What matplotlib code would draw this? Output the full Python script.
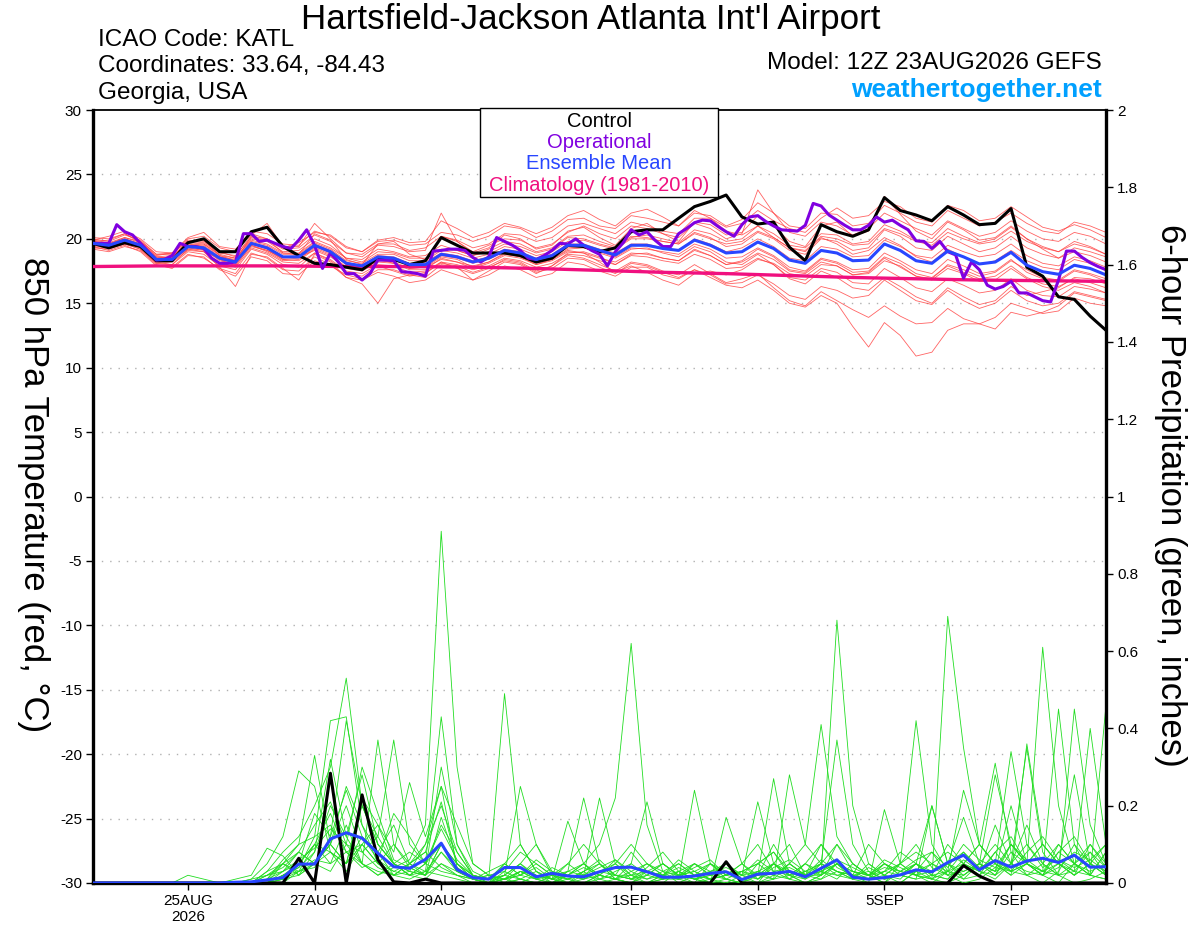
import matplotlib
matplotlib.use("Agg")
import matplotlib.pyplot as plt
from matplotlib.patches import Rectangle
import numpy as np
import pandas as pd

plt.rcParams['font.family'] = ['Liberation Sans', 'DejaVu Sans']

# Colours
PURPLE = '#8000e0'
BLUE = '#2846ff'
PINK = '#f0107f'
RED = '#ff3c3c'
GREEN = '#22dd22'

# Time axes (6-hourly ensemble, 3-hourly operational, daily climatology)
times = pd.date_range("2026-08-23 12:00", periods=65, freq="6h")
times_op = pd.date_range("2026-08-23 12:00", periods=129, freq="3h")
times_clim = pd.date_range("2026-08-23 12:00", periods=17, freq="24h")

tick_dates = pd.to_datetime(["2026-08-25", "2026-08-27", "2026-08-29", "2026-09-01",
                             "2026-09-03", "2026-09-05", "2026-09-07"])
tick_labels = ["25AUG\n2026", "27AUG", "29AUG", "1SEP", "3SEP", "5SEP", "7SEP"]

# 850 hPa temperature (C)
control_t = [19.65, 19.3, 19.7, 19.4, 18.3, 18.3, 19.7, 20.0, 19.0, 19.0,
             20.55, 20.9, 19.4, 18.7, 18.1, 18.0, 17.8, 17.6, 18.5, 18.4,
             18.0, 18.3, 20.1, 19.5, 18.9, 18.9, 18.9, 18.7, 18.2, 18.5,
             19.5, 19.4, 19.0, 19.3, 20.55, 20.7, 20.7, 21.6, 22.5, 22.9,
             23.4, 21.7, 21.15, 21.3, 19.35, 18.3, 21.1, 20.55, 20.2, 20.7,
             23.2, 22.2, 21.85, 21.4, 22.5, 21.85, 21.1, 21.2, 22.35, 17.8,
             17.1, 15.5, 15.3, 14.0, 12.9]

mean_t = [19.65, 19.5, 19.9, 19.5, 18.4, 18.4, 19.4, 19.3, 18.5, 18.2,
          19.65, 19.3, 18.6, 18.6, 19.5, 19.0, 18.1, 17.9, 18.6, 18.5,
          18.0, 18.0, 18.8, 18.6, 18.2, 18.5, 19.1, 18.9, 18.4, 18.7,
          19.5, 19.5, 19.1, 18.75, 19.5, 19.5, 19.25, 19.1, 19.9, 19.5,
          18.9, 19.0, 19.75, 19.25, 18.35, 18.1, 19.1, 18.9, 18.3, 18.35,
          19.6, 19.1, 18.3, 18.1, 19.05, 18.6, 18.05, 18.2, 18.95, 17.95,
          17.45, 17.25, 17.95, 17.7, 17.2]

oper_t = [19.65, 19.65, 19.65, 21.1, 20.55, 20.3, 19.65, 19.0, 18.35, 18.4,
          18.7, 19.65, 19.4, 19.4, 19.25, 18.5, 18.1, 18.1, 18.2, 20.4,
          20.4, 19.8, 19.9, 19.65, 19.4, 19.25, 19.9, 20.7, 19.5, 17.7,
          18.9, 18.2, 17.3, 17.3, 16.8, 17.3, 18.35, 18.35, 18.3, 17.45,
          17.4, 17.3, 17.1, 19.05, 19.1, 19.2, 19.2, 19.1, 18.55, 18.2,
          18.6, 20.1, 19.8, 19.5, 19.1, 18.5, 18.4, 18.7, 19.1, 19.65,
          19.6, 20.0, 19.5, 19.1, 18.8, 17.9, 19.0, 19.7, 20.7, 20.3,
          20.55, 19.9, 19.4, 19.4, 20.4, 20.8, 21.25, 21.45, 21.4, 20.95,
          20.55, 20.2, 21.1, 21.7, 21.8, 21.35, 21.0, 20.7, 20.65, 20.6,
          21.05, 22.75, 22.55, 21.85, 21.45, 21.05, 20.7, 20.7, 21.05, 21.7,
          21.3, 21.45, 21.05, 20.7, 19.85, 19.8, 19.25, 19.8, 19.0, 18.75,
          16.95, 18.2, 17.6, 16.4, 16.1, 16.3, 16.7, 15.8, 15.8, 15.5,
          15.2, 15.1, 16.8, 19.05, 19.05, 18.55, 18.15, 17.85, 17.6]

clim_t = [17.85, 17.9, 17.9, 17.9, 17.85, 17.85, 17.8, 17.7, 17.55,
          17.4, 17.3, 17.15, 17.0, 16.9, 16.8, 16.75, 16.7]

# ensemble members, temperature
ens_t01 = [20.0, 19.8, 20.3, 19.9, 18.8, 18.9, 20.0, 20.2, 19.3, 19.0,
           20.6, 20.4, 19.6, 19.5, 20.6, 20.2, 19.3, 19.0, 19.8, 19.9,
           19.5, 19.6, 20.5, 20.3, 19.8, 20.2, 21.0, 20.8, 20.1, 20.6,
           21.5, 21.6, 21.0, 20.8, 21.8, 21.6, 21.3, 21.0, 22.0, 21.8,
           21.0, 21.5, 22.8, 22.0, 21.0, 20.8, 22.0, 21.9, 21.0, 21.2,
           22.6, 22.0, 21.3, 21.0, 22.2, 21.6, 21.0, 21.3, 22.0, 21.2,
           20.6, 20.4, 21.3, 21.0, 20.5]
ens_t02 = [19.4, 19.1, 19.5, 19.0, 17.9, 17.8, 18.8, 18.5, 17.7, 17.3,
           18.9, 18.5, 17.6, 17.5, 18.6, 18.0, 17.0, 16.8, 17.4, 17.1,
           16.6, 16.8, 17.6, 17.2, 16.8, 17.2, 17.9, 17.6, 17.0, 17.3,
           18.2, 18.0, 17.5, 17.1, 17.8, 17.8, 17.2, 16.9, 17.6, 17.0,
           16.4, 16.2, 16.8, 16.0, 15.0, 14.7, 15.6, 15.0, 13.2, 11.6,
           13.5, 12.5, 10.9, 11.2, 12.9, 13.4, 13.4, 13.0, 14.3, 14.0,
           14.3, 14.8, 15.8, 15.5, 15.2]
ens_t03 = [19.3, 19.2, 19.6, 19.2, 18.1, 18.0, 19.0, 18.8, 17.9, 17.6,
           19.2, 18.8, 18.0, 17.8, 18.9, 18.3, 17.4, 17.1, 17.9, 17.5,
           17.1, 17.3, 18.2, 17.7, 17.3, 17.7, 18.4, 18.2, 17.5, 17.9,
           18.7, 18.5, 18.0, 17.5, 18.2, 18.0, 17.5, 17.2, 18.0, 17.3,
           16.6, 16.9, 17.3, 16.2, 15.2, 14.8, 15.9, 15.2, 14.5, 13.9,
           14.8, 14.0, 13.4, 13.5, 14.6, 13.8, 13.4, 13.9, 15.0, 14.6,
           14.2, 14.4, 15.4, 15.0, 14.8]
ens_t04 = [19.9, 19.7, 20.1, 19.8, 18.6, 18.7, 19.7, 19.6, 18.8, 18.5,
           20.0, 19.8, 19.0, 19.1, 20.0, 19.5, 18.5, 18.4, 19.2, 19.0,
           18.6, 18.7, 19.5, 19.1, 18.7, 19.2, 19.8, 19.6, 19.0, 19.3,
           20.2, 20.3, 19.8, 19.4, 20.2, 20.1, 19.8, 19.6, 20.5, 20.1,
           19.4, 19.6, 20.5, 20.0, 19.1, 18.8, 20.0, 19.8, 19.1, 19.3,
           20.7, 20.2, 19.3, 19.1, 20.2, 19.6, 19.0, 19.3, 20.2, 19.3,
           18.8, 18.5, 19.3, 19.0, 18.6]
ens_t05 = [19.5, 19.3, 19.6, 19.2, 18.1, 18.2, 19.1, 19.0, 18.1, 17.8,
           19.3, 18.9, 18.2, 18.1, 18.9, 18.4, 17.5, 17.3, 18.0, 17.9,
           17.4, 17.5, 18.2, 18.0, 17.6, 17.9, 18.5, 18.3, 17.8, 18.1,
           18.8, 18.7, 18.3, 18.0, 18.7, 18.6, 18.3, 18.1, 18.8, 18.4,
           17.7, 17.8, 18.5, 18.0, 17.0, 16.8, 17.7, 17.4, 16.6, 16.5,
           17.7, 17.0, 16.2, 15.9, 16.9, 16.4, 15.8, 16.0, 16.9, 16.0,
           15.6, 15.5, 16.3, 16.1, 15.8]
ens_t06 = [19.8, 19.9, 20.4, 19.7, 18.5, 18.6, 19.8, 19.9, 18.7, 18.3,
           20.2, 20.0, 18.9, 18.8, 20.4, 19.9, 18.4, 18.0, 19.6, 19.8,
           18.8, 18.4, 20.2, 19.8, 18.9, 19.3, 20.3, 20.0, 19.2, 19.5,
           20.6, 20.9, 20.1, 19.5, 20.8, 21.2, 20.4, 19.8, 21.3, 21.1,
           20.3, 20.5, 21.8, 21.0, 19.8, 19.4, 21.0, 21.3, 20.2, 20.6,
           23.3, 21.9, 20.6, 20.0, 21.3, 20.7, 19.9, 20.1, 21.0, 20.0,
           19.4, 19.0, 19.8, 19.4, 18.8]
ens_t07 = [19.6, 19.4, 19.8, 19.3, 18.3, 18.3, 19.3, 19.1, 18.4, 17.9,
           19.5, 19.0, 18.3, 18.4, 19.3, 18.8, 17.8, 17.6, 18.3, 18.2,
           17.7, 17.8, 18.6, 18.4, 17.8, 18.2, 18.9, 18.6, 18.1, 18.4,
           19.2, 19.3, 18.9, 18.5, 19.2, 19.3, 18.9, 18.6, 19.4, 19.0,
           18.2, 18.0, 18.8, 18.0, 16.9, 16.5, 17.5, 17.0, 16.2, 16.0,
           17.0, 16.3, 15.5, 15.0, 16.2, 15.5, 14.9, 15.2, 16.3, 15.6,
           15.9, 16.2, 17.0, 16.9, 16.5]
ens_t08 = [19.7, 19.6, 20.0, 19.6, 18.5, 18.5, 19.5, 19.5, 18.6, 18.4,
           19.8, 19.5, 18.8, 18.8, 19.7, 19.2, 18.3, 18.1, 18.8, 18.8,
           18.3, 18.3, 19.1, 18.9, 18.5, 18.8, 19.4, 19.2, 18.7, 19.0,
           19.8, 19.9, 19.5, 19.2, 20.0, 20.0, 19.8, 19.6, 20.4, 20.0,
           19.6, 19.8, 20.6, 20.1, 19.3, 19.1, 20.2, 20.0, 19.5, 19.6,
           20.8, 20.4, 19.8, 19.5, 20.5, 20.0, 19.6, 19.8, 20.6, 19.8,
           19.3, 19.0, 19.6, 19.3, 18.8]
ens_t09 = [19.5, 19.4, 19.7, 19.4, 18.2, 18.0, 19.2, 19.0, 17.8, 16.3,
           18.8, 18.6, 17.7, 16.8, 18.8, 18.2, 17.0, 16.5, 15.0, 16.9,
           17.2, 17.0, 18.0, 17.8, 16.8, 17.5, 18.2, 18.0, 17.3, 17.9,
           18.9, 19.0, 18.6, 18.0, 18.8, 18.9, 18.5, 18.3, 19.2, 18.7,
           18.0, 18.3, 19.2, 18.6, 17.6, 17.4, 18.4, 18.1, 17.4, 17.5,
           18.6, 18.1, 17.3, 17.0, 17.9, 17.4, 16.9, 17.1, 17.9, 17.0,
           16.5, 16.3, 16.9, 16.6, 16.2]
ens_t10 = [20.1, 20.0, 20.4, 19.8, 18.8, 18.8, 19.9, 19.8, 19.0, 18.6,
           20.3, 21.2, 19.4, 19.4, 21.2, 20.0, 18.9, 18.6, 19.5, 19.4,
           19.0, 19.1, 22.0, 19.8, 19.0, 19.5, 20.0, 19.9, 19.3, 19.6,
           20.5, 21.0, 20.4, 20.0, 21.0, 20.8, 20.4, 20.1, 21.2, 20.8,
           20.0, 20.4, 23.8, 22.0, 20.5, 20.2, 21.3, 21.0, 20.3, 20.8,
           22.0, 21.4, 20.8, 20.3, 21.4, 20.8, 20.2, 20.5, 21.4, 20.6,
           20.0, 19.8, 20.5, 20.2, 19.6]
ens_t11 = [19.8, 19.6, 20.0, 19.6, 18.4, 18.6, 19.6, 19.4, 18.5, 18.2,
           19.7, 19.4, 18.6, 18.7, 19.6, 19.1, 18.2, 17.9, 18.7, 18.6,
           18.1, 18.2, 18.9, 18.7, 18.3, 18.6, 19.2, 19.0, 18.5, 18.8,
           19.6, 19.6, 19.2, 18.9, 19.6, 19.6, 19.3, 19.1, 20.0, 19.6,
           19.0, 19.3, 20.0, 19.4, 18.5, 18.3, 19.4, 19.2, 18.6, 18.7,
           19.9, 19.4, 18.7, 18.5, 19.5, 19.0, 18.6, 18.8, 19.6, 18.7,
           18.1, 17.9, 18.6, 18.3, 17.8]
ens_t12 = [19.6, 19.5, 19.8, 19.5, 18.3, 18.4, 19.3, 19.3, 18.4, 18.1,
           19.6, 19.2, 18.4, 18.5, 19.4, 18.9, 18.0, 17.7, 18.5, 18.4,
           17.9, 17.9, 18.7, 18.5, 18.1, 18.4, 19.0, 18.8, 18.3, 18.6,
           19.3, 19.4, 19.0, 18.6, 19.3, 19.2, 19.0, 18.8, 19.6, 19.2,
           18.5, 18.6, 19.3, 18.7, 17.8, 17.5, 18.5, 18.2, 17.6, 17.7,
           18.9, 18.3, 17.6, 17.3, 18.4, 17.9, 17.3, 17.5, 18.4, 17.4,
           16.9, 16.7, 17.5, 17.2, 16.7]
ens_t13 = [19.4, 19.3, 19.6, 19.4, 18.5, 18.6, 19.5, 19.6, 18.7, 18.5,
           19.9, 19.6, 18.9, 18.9, 19.8, 19.3, 18.5, 18.2, 19.0, 18.9,
           18.5, 18.5, 19.2, 19.1, 18.7, 19.0, 19.6, 19.4, 18.9, 19.2,
           20.1, 20.0, 19.6, 19.3, 20.1, 20.3, 20.0, 19.7, 20.7, 20.4,
           19.8, 20.0, 21.0, 20.4, 19.5, 19.3, 20.4, 20.3, 19.6, 19.8,
           21.1, 20.6, 19.9, 19.7, 20.8, 20.2, 19.7, 20.0, 20.9, 20.0,
           19.2, 18.5, 19.0, 18.7, 18.2]
ens_t14 = [19.7, 19.4, 19.9, 19.4, 18.2, 18.3, 19.2, 19.2, 18.3, 18.0,
           19.4, 19.1, 18.4, 18.3, 19.2, 18.7, 17.7, 17.5, 18.2, 18.1,
           17.6, 17.6, 18.5, 18.2, 17.7, 18.1, 18.7, 18.5, 18.0, 18.3,
           19.0, 18.9, 18.5, 18.2, 18.9, 18.8, 18.5, 18.3, 19.1, 18.7,
           18.0, 18.2, 18.9, 18.4, 17.5, 17.3, 18.2, 17.9, 17.2, 17.4,
           18.5, 17.8, 17.1, 16.9, 18.0, 17.6, 17.1, 17.4, 18.3, 17.6,
           17.0, 16.8, 17.6, 17.3, 16.9]
ens_t15 = [19.9, 20.2, 20.6, 20.0, 19.0, 18.9, 19.8, 19.7, 18.9, 18.7,
           20.1, 19.9, 19.2, 19.3, 20.3, 19.8, 18.9, 18.8, 19.6, 19.6,
           19.1, 19.3, 20.2, 19.9, 19.3, 19.6, 20.4, 20.3, 19.8, 20.1,
           21.0, 21.2, 20.8, 20.4, 21.3, 21.0, 20.6, 20.4, 21.6, 21.6,
           20.9, 21.2, 22.2, 21.4, 20.8, 20.5, 21.6, 22.4, 21.6, 21.8,
           22.9, 22.5, 21.6, 21.3, 22.6, 22.2, 21.4, 21.6, 22.5, 21.7,
           20.9, 20.6, 21.1, 20.7, 20.1]
ens_t16 = [19.2, 19.0, 19.4, 19.1, 18.0, 17.7, 18.7, 18.6, 17.6, 17.1,
           18.6, 18.3, 17.3, 17.2, 18.3, 17.9, 17.2, 16.9, 17.6, 17.6,
           17.2, 17.4, 18.1, 17.9, 17.4, 17.8, 18.3, 18.1, 17.4, 17.7,
           18.5, 18.4, 17.8, 17.3, 18.1, 17.9, 17.4, 17.0, 17.6, 17.2,
           16.5, 16.6, 17.2, 16.5, 15.6, 15.3, 16.3, 16.0, 15.4, 15.6,
           16.8, 16.0, 15.2, 14.9, 16.0, 15.2, 14.6, 15.0, 16.0, 15.2,
           14.8, 15.0, 15.9, 15.6, 15.3]
ens_t17 = [19.8, 19.6, 20.1, 19.7, 18.7, 18.9, 20.1, 20.5, 19.4, 19.2,
           20.4, 20.0, 19.3, 19.7, 20.5, 20.3, 19.4, 19.0, 19.9, 20.1,
           19.7, 19.8, 21.4, 20.8, 20.1, 20.5, 21.2, 20.9, 20.4, 20.9,
           21.8, 22.2, 21.5, 21.0, 22.0, 22.3, 21.7, 21.0, 22.2, 21.6,
           20.6, 20.3, 21.0, 20.1, 19.3, 19.0, 20.1, 19.6, 18.8, 19.1,
           20.1, 19.5, 18.6, 18.2, 19.2, 18.6, 18.0, 18.3, 19.1, 18.3,
           17.8, 17.6, 18.4, 18.1, 17.6]
ens_t18 = [19.5, 19.6, 19.9, 19.5, 18.6, 18.5, 19.4, 19.2, 18.6, 18.3,
           19.5, 19.1, 18.5, 18.6, 19.1, 18.6, 17.8, 17.7, 18.4, 18.1,
           17.7, 17.8, 18.4, 18.2, 17.9, 18.2, 18.8, 18.6, 18.0, 18.4,
           19.1, 18.9, 18.2, 17.4, 17.9, 17.4, 16.8, 16.4, 17.3, 17.5,
           17.2, 17.6, 18.4, 18.1, 17.3, 17.1, 18.0, 17.9, 17.2, 17.3,
           18.3, 17.9, 17.1, 16.8, 17.7, 17.3, 16.7, 16.8, 17.7, 16.9,
           16.3, 16.0, 16.6, 16.3, 15.8]

temp_members = [ens_t01, ens_t02, ens_t03, ens_t04, ens_t05, ens_t06, ens_t07, ens_t08, ens_t09,
                ens_t10, ens_t11, ens_t12, ens_t13, ens_t14, ens_t15, ens_t16, ens_t17, ens_t18]

# 6-hour precipitation (inches)
control_p = [0, 0, 0, 0, 0, 0, 0, 0, 0, 0,
             0, 0, 0, 0.064, 0, 0.284, 0, 0.228, 0.06, 0.003,
             0, 0.01, 0, 0, 0, 0, 0, 0, 0, 0,
             0, 0, 0, 0, 0, 0, 0, 0, 0, 0,
             0.055, 0, 0, 0, 0, 0, 0, 0, 0, 0,
             0, 0, 0, 0, 0, 0.045, 0.018, 0, 0, 0,
             0, 0, 0, 0, 0]

mean_p = [0, 0, 0, 0, 0, 0, 0, 0, 0, 0.002,
          0.003, 0.008, 0.014, 0.049, 0.049, 0.114, 0.130, 0.116, 0.077, 0.042,
          0.038, 0.061, 0.103, 0.035, 0.014, 0.010, 0.040, 0.040, 0.016, 0.025,
          0.018, 0.016, 0.029, 0.040, 0.041, 0.029, 0.015, 0.015, 0.018, 0.025,
          0.029, 0.009, 0.023, 0.025, 0.030, 0.016, 0.038, 0.060, 0.015, 0.010,
          0.014, 0.021, 0.034, 0.029, 0.053, 0.072, 0.034, 0.058, 0.041, 0.057,
          0.064, 0.053, 0.072, 0.041, 0.042]

ens_p01 = [0, 0, 0, 0, 0, 0, 0, 0, 0, 0,
           0, 0, 0.02, 0.05, 0.10, 0.18, 0.08, 0.05, 0.02, 0.04,
           0.06, 0.15, 0.91, 0.30, 0.05, 0.02, 0, 0.01, 0, 0,
           0, 0.02, 0.05, 0.01, 0, 0, 0, 0.03, 0.01, 0,
           0, 0, 0.05, 0.08, 0.02, 0, 0.01, 0.05, 0.02, 0,
           0, 0, 0.03, 0.08, 0.02, 0, 0.01, 0.04, 0.10, 0.05,
           0.02, 0, 0.05, 0.10, 0.04]
ens_p02 = [0, 0, 0, 0, 0, 0, 0, 0, 0, 0,
           0, 0.03, 0.08, 0.12, 0.20, 0.30, 0.53, 0.20, 0.10, 0.05,
           0.03, 0.02, 0.10, 0.05, 0.01, 0, 0.02, 0.25, 0.10, 0.02,
           0, 0, 0.01, 0, 0, 0, 0.02, 0.05, 0.02, 0,
           0.01, 0, 0, 0.02, 0.05, 0.10, 0.41, 0.12, 0.05, 0.02,
           0, 0.03, 0.05, 0.02, 0.01, 0.05, 0.10, 0.31, 0.08, 0.02,
           0, 0.03, 0.10, 0.05, 0.02]
ens_p03 = [0, 0, 0, 0, 0, 0, 0, 0, 0, 0,
           0, 0, 0.05, 0.10, 0.12, 0.42, 0.43, 0.15, 0.08, 0.02,
           0.05, 0.10, 0.20, 0.08, 0.02, 0, 0, 0.03, 0.02, 0,
           0.02, 0.05, 0.10, 0.22, 0.62, 0.15, 0.03, 0, 0.02, 0.05,
           0.03, 0.01, 0, 0.05, 0.02, 0, 0.02, 0.68, 0.20, 0.05,
           0.02, 0, 0.03, 0.01, 0, 0.02, 0.05, 0.03, 0.10, 0.06,
           0.03, 0.02, 0, 0.01, 0.03]
ens_p04 = [0, 0, 0, 0, 0, 0, 0, 0, 0, 0,
           0, 0.01, 0.06, 0.10, 0.33, 0.10, 0.05, 0.20, 0.12, 0.37,
           0.10, 0.05, 0.43, 0.10, 0.03, 0.01, 0.05, 0.10, 0.03, 0,
           0, 0.03, 0, 0.01, 0.05, 0.21, 0.05, 0.02, 0, 0.01,
           0, 0.02, 0.21, 0.05, 0.01, 0.03, 0.05, 0.02, 0.01, 0,
           0.19, 0.05, 0.02, 0, 0.03, 0.08, 0.03, 0.01, 0.05, 0.15,
           0.05, 0.02, 0.45, 0.15, 0.05]
ens_p05 = [0, 0, 0, 0, 0, 0, 0, 0, 0, 0,
           0.01, 0.05, 0.12, 0.29, 0.25, 0.08, 0.03, 0.10, 0.15, 0.08,
           0.26, 0.12, 0.25, 0.04, 0.01, 0, 0.01, 0.02, 0.06, 0.03,
           0.01, 0, 0.02, 0.05, 0.02, 0, 0.01, 0.01, 0.24, 0.05,
           0.01, 0, 0.03, 0.05, 0.10, 0.02, 0.03, 0.01, 0.05, 0.02,
           0, 0.05, 0.42, 0.10, 0.03, 0.01, 0.05, 0.28, 0.10, 0.05,
           0.02, 0.08, 0.05, 0.02, 0.08]
ens_p06 = [0, 0, 0, 0, 0, 0, 0.02, 0.01, 0, 0,
           0, 0, 0.02, 0.04, 0.08, 0.32, 0.12, 0.05, 0.03, 0.02,
           0.05, 0.08, 0.21, 0.05, 0.01, 0, 0.02, 0.05, 0.01, 0,
           0.03, 0.22, 0.05, 0.01, 0, 0, 0.02, 0.03, 0.01, 0,
           0.17, 0.05, 0.01, 0.03, 0.01, 0, 0.02, 0.05, 0.02, 0.01,
           0.03, 0.02, 0.05, 0.20, 0.05, 0.01, 0.02, 0.05, 0.34, 0.10,
           0.05, 0.02, 0.03, 0.40, 0.10]
ens_p07 = [0, 0, 0, 0, 0, 0, 0, 0, 0, 0.01,
           0.02, 0.09, 0.07, 0.02, 0.05, 0.10, 0.25, 0.15, 0.05, 0.10,
           0.04, 0.02, 0.10, 0.05, 0.02, 0.01, 0.49, 0.10, 0.03, 0.01,
           0, 0, 0.02, 0.01, 0.03, 0.05, 0.02, 0.01, 0, 0.05,
           0.02, 0.05, 0.02, 0.27, 0.05, 0.02, 0.01, 0.03, 0.01, 0.05,
           0.02, 0.05, 0.02, 0.01, 0.69, 0.35, 0.10, 0.05, 0.02, 0.05,
           0.10, 0.05, 0.02, 0.05, 0.02]
ens_p08 = [0, 0, 0, 0, 0, 0, 0, 0, 0, 0,
           0, 0.02, 0.04, 0.08, 0.15, 0.21, 0.10, 0.08, 0.04, 0.02,
           0.01, 0.03, 0.08, 0.03, 0.01, 0, 0.01, 0.05, 0.02, 0.01,
           0.16, 0.05, 0.02, 0.01, 0, 0.02, 0.05, 0.02, 0.01, 0.03,
           0.05, 0.02, 0, 0.01, 0.28, 0.10, 0.05, 0.37, 0.10, 0.03,
           0.01, 0.02, 0.05, 0.01, 0.03, 0.24, 0.10, 0.05, 0.02, 0.36,
           0.10, 0.05, 0.28, 0.05, 0.02]
ens_p09 = [0, 0, 0, 0, 0, 0, 0, 0, 0, 0,
           0, 0, 0.01, 0.05, 0.18, 0.12, 0.42, 0.20, 0.10, 0.05,
           0.02, 0.01, 0.05, 0.02, 0, 0, 0, 0.01, 0, 0.02,
           0.05, 0.02, 0.22, 0.05, 0.01, 0, 0.01, 0.02, 0.05, 0.03,
           0.01, 0, 0.02, 0.10, 0.03, 0.01, 0.05, 0.03, 0.02, 0.01,
           0.05, 0.02, 0.01, 0.20, 0.05, 0.17, 0.05, 0.02, 0.08, 0.05,
           0.61, 0.20, 0.05, 0.02, 0.46]
ens_p10 = [0, 0, 0, 0, 0, 0, 0, 0, 0, 0,
           0, 0.03, 0.05, 0.03, 0.10, 0.05, 0.15, 0.05, 0.37, 0.10,
           0.05, 0.02, 0.05, 0.03, 0.01, 0.02, 0.03, 0.01, 0, 0,
           0.02, 0.01, 0.03, 0.02, 0.02, 0.01, 0.03, 0.05, 0.02, 0.01,
           0.02, 0.03, 0.05, 0.02, 0.01, 0.05, 0.02, 0.10, 0.05, 0.02,
           0.03, 0.05, 0.08, 0.05, 0.02, 0.03, 0.05, 0.10, 0.05, 0.35,
           0.08, 0.02, 0.05, 0.02, 0.01]
ens_p11 = [0, 0, 0, 0, 0, 0, 0, 0, 0, 0,
           0, 0, 0, 0.03, 0.05, 0.08, 0.05, 0.10, 0.05, 0.02,
           0.03, 0.10, 0.25, 0.15, 0.05, 0.02, 0.01, 0.03, 0.02, 0.01,
           0.05, 0.10, 0.05, 0.02, 0.01, 0.03, 0.01, 0.02, 0.03, 0.05,
           0.02, 0.01, 0.02, 0.05, 0.02, 0.01, 0.03, 0.05, 0.01, 0.02,
           0.05, 0.03, 0.02, 0.05, 0.03, 0.02, 0.05, 0.03, 0.20, 0.05,
           0.03, 0.45, 0.10, 0.02, 0.01]
ens_p12 = [0, 0, 0, 0, 0, 0, 0, 0, 0, 0,
           0, 0.01, 0.05, 0.08, 0.05, 0.03, 0.10, 0.05, 0.02, 0.05,
           0.08, 0.05, 0.03, 0.02, 0.01, 0, 0.05, 0.02, 0.01, 0,
           0.01, 0.02, 0.01, 0.03, 0.05, 0.02, 0.01, 0.03, 0.01, 0.02,
           0.03, 0.01, 0.02, 0.01, 0.02, 0.05, 0.03, 0.02, 0.03, 0.02,
           0.01, 0.02, 0.03, 0.05, 0.08, 0.05, 0.10, 0.05, 0.03, 0.02,
           0.05, 0.10, 0.05, 0.08, 0.02]
ens_p13 = [0, 0, 0, 0, 0, 0, 0, 0, 0, 0,
           0.01, 0.02, 0.03, 0.05, 0.10, 0.08, 0.05, 0.12, 0.08, 0.15,
           0.05, 0.03, 0.02, 0.01, 0, 0, 0.01, 0, 0.02, 0.01,
           0, 0.01, 0.02, 0.01, 0, 0.03, 0.02, 0.01, 0.05, 0.02,
           0.05, 0.01, 0.03, 0.02, 0.05, 0.02, 0.02, 0.05, 0.03, 0.01,
           0.02, 0.01, 0.05, 0.02, 0.01, 0.05, 0.02, 0.08, 0.03, 0.05,
           0.10, 0.05, 0.02, 0.05, 0.10]
ens_p14 = [0, 0, 0, 0, 0, 0, 0, 0, 0, 0,
           0, 0, 0.02, 0.04, 0.12, 0.15, 0.08, 0.10, 0.05, 0.03,
           0.02, 0.05, 0.15, 0.08, 0.02, 0.01, 0.02, 0.01, 0.03, 0.01,
           0.02, 0.01, 0.03, 0.05, 0.10, 0.05, 0.02, 0.01, 0.02, 0.01,
           0.03, 0.02, 0.01, 0.05, 0.03, 0.02, 0.05, 0.03, 0.02, 0.10,
           0.05, 0.03, 0.02, 0.01, 0.05, 0.03, 0.05, 0.02, 0.05, 0.03,
           0.02, 0.10, 0.05, 0.03, 0.05]
ens_p15 = [0, 0, 0, 0, 0, 0, 0, 0, 0, 0,
           0, 0.02, 0.05, 0.02, 0.08, 0.20, 0.12, 0.28, 0.10, 0.05,
           0.03, 0.02, 0.17, 0.05, 0.02, 0, 0.01, 0.02, 0.05, 0.02,
           0.03, 0.05, 0.02, 0.01, 0.02, 0.05, 0.03, 0.02, 0.01, 0.02,
           0.05, 0.02, 0.03, 0.01, 0.05, 0.02, 0.10, 0.05, 0.02, 0.03,
           0.01, 0.02, 0.05, 0.03, 0.05, 0.02, 0.05, 0.03, 0.05, 0.02,
           0.03, 0.05, 0.02, 0.10, 0.05]
ens_p16 = [0, 0, 0, 0, 0, 0, 0, 0, 0, 0,
           0, 0, 0.01, 0.02, 0.05, 0.10, 0.05, 0.22, 0.15, 0.05,
           0.02, 0.05, 0.10, 0.03, 0.01, 0.02, 0.01, 0.03, 0.01, 0.02,
           0.01, 0.03, 0.05, 0.02, 0.01, 0.02, 0.05, 0.02, 0.03, 0.01,
           0.02, 0.03, 0.02, 0.05, 0.02, 0.03, 0.05, 0.10, 0.03, 0.02,
           0.05, 0.02, 0.01, 0.02, 0.03, 0.05, 0.03, 0.02, 0.10, 0.05,
           0.02, 0.05, 0.03, 0.02, 0.08]
ens_p17 = [0, 0, 0, 0, 0, 0, 0, 0, 0, 0,
           0, 0, 0.03, 0.08, 0.05, 0.10, 0.20, 0.08, 0.12, 0.05,
           0.02, 0.03, 0.30, 0.10, 0.02, 0.01, 0.02, 0.05, 0.10, 0.03,
           0.02, 0.05, 0.01, 0.02, 0.08, 0.03, 0.02, 0.06, 0.03, 0.01,
           0.02, 0.05, 0.10, 0.03, 0.02, 0.05, 0.10, 0.04, 0.02, 0.01,
           0.03, 0.08, 0.05, 0.02, 0.10, 0.05, 0.03, 0.08, 0.12, 0.05,
           0.03, 0.08, 0.12, 0.05, 0.03]
ens_p18 = [0, 0, 0, 0, 0, 0, 0, 0, 0, 0,
           0, 0.01, 0.03, 0.06, 0.09, 0.14, 0.10, 0.30, 0.18, 0.06,
           0.04, 0.02, 0.08, 0.04, 0.01, 0, 0.03, 0.08, 0.05, 0.02,
           0.01, 0.03, 0.06, 0.02, 0.01, 0.04, 0.08, 0.03, 0.05, 0.02,
           0.01, 0.03, 0.05, 0.08, 0.03, 0.02, 0.06, 0.03, 0.01, 0.04,
           0.02, 0.05, 0.10, 0.04, 0.02, 0.06, 0.03, 0.15, 0.05, 0.10,
           0.04, 0.06, 0.03, 0.08, 0.04]
ens_p19 = [0, 0, 0, 0, 0, 0, 0, 0, 0, 0,
           0, 0, 0.01, 0.03, 0.06, 0.05, 0.08, 0.04, 0.06, 0.18,
           0.12, 0.05, 0.14, 0.06, 0.02, 0.01, 0.01, 0.03, 0.01, 0.04,
           0.02, 0.04, 0.02, 0.06, 0.03, 0.01, 0.02, 0.04, 0.02, 0.03,
           0.04, 0.02, 0.06, 0.03, 0.04, 0.02, 0.03, 0.06, 0.04, 0.02,
           0.04, 0.03, 0.06, 0.08, 0.04, 0.10, 0.06, 0.04, 0.03, 0.08,
           0.12, 0.06, 0.04, 0.06, 0.03]
ens_p20 = [0, 0, 0, 0, 0, 0, 0, 0, 0, 0,
           0, 0, 0.02, 0.03, 0.04, 0.12, 0.24, 0.12, 0.06, 0.03,
           0.05, 0.08, 0.04, 0.02, 0.01, 0.03, 0.05, 0.02, 0.04, 0.01,
           0.03, 0.02, 0.04, 0.06, 0.02, 0.03, 0.05, 0.02, 0.04, 0.06,
           0.02, 0.03, 0.01, 0.04, 0.06, 0.03, 0.02, 0.05, 0.03, 0.02,
           0.06, 0.04, 0.02, 0.03, 0.05, 0.08, 0.04, 0.06, 0.03, 0.05,
           0.02, 0.04, 0.08, 0.06, 0.10]

precip_members = [ens_p01, ens_p02, ens_p03, ens_p04, ens_p05, ens_p06, ens_p07,
                  ens_p08, ens_p09, ens_p10, ens_p11, ens_p12, ens_p13, ens_p14,
                  ens_p15, ens_p16, ens_p17, ens_p18, ens_p19, ens_p20]

# Figure
W, H = 1200, 927
fig = plt.figure(figsize=(W / 100, H / 100), dpi=100)
ax = fig.add_axes([93 / W, 1 - 883 / H, (1106 - 93) / W, (883 - 110) / H])
ax2 = ax.twinx()

for m in temp_members:
    ax.plot(times[:len(m)], m, color=RED, lw=0.6, alpha=0.8, zorder=2)
ax.plot(times_clim, clim_t, color=PINK, lw=2.4, zorder=3)
ax.plot(times[:len(control_t)], control_t, color='black', lw=2.2, zorder=4)
ax.plot(times_op[:len(oper_t)], oper_t, color=PURPLE, lw=2.2, zorder=5)
ax.plot(times[:len(mean_t)], mean_t, color=BLUE, lw=2.2, zorder=6)

for v in range(-25, 30, 5):
    ax.axhline(v, color='#b0b0b0', lw=1.0, ls=(0, (1, 5)), zorder=1)

for m in precip_members:
    ax2.plot(times[:len(m)], m, color=GREEN, lw=0.6, zorder=2)
ax2.plot(times[:len(control_p)], control_p, color='black', lw=2.2, zorder=4)
ax2.plot(times[:len(mean_p)], mean_p, color=BLUE, lw=2.2, zorder=5)

ax.set_xlim(times[0], times[-1])
ax.set_ylim(-30, 30)
ax2.set_ylim(0, 2)

ax.set_yticks(range(-30, 31, 5))
ax.set_yticklabels([str(v) for v in range(-30, 31, 5)])
p_ticks = np.arange(0, 2.01, 0.2)
ax2.set_yticks(p_ticks)
ax2.set_yticklabels(['%g' % round(v, 1) for v in p_ticks])
ax.set_xticks(tick_dates)
ax.set_xticklabels(tick_labels)

ax.tick_params(axis='both', direction='out', length=5, width=1, labelsize=11, pad=3)
ax2.tick_params(axis='y', direction='out', length=5, width=1, labelsize=11, pad=3)

ax.spines['left'].set_linewidth(2.4)
ax.spines['bottom'].set_linewidth(2.4)
ax.spines['top'].set_linewidth(1.3)
ax.spines['right'].set_visible(False)
ax2.spines['right'].set_linewidth(2.4)
for s in ['left', 'top', 'bottom']:
    ax2.spines[s].set_visible(False)

# legend box
x0, x1 = (480 - 93) / 1013, (718 - 93) / 1013
y0 = (883 - 197) / 773
ax2.add_patch(Rectangle((x0, y0), x1 - x0, 1.003 - y0, transform=ax2.transAxes,
                        facecolor='white', edgecolor='black', lw=1.0, zorder=10, clip_on=False))
leg_items = [("Control", 'black', 121), ("Operational", PURPLE, 142),
             ("Ensemble Mean", BLUE, 163), ("Climatology (1981-2010)", PINK, 185)]
for txt, col, ypix in leg_items:
    ax2.text((x0 + x1) / 2, (883 - ypix) / 773, txt, color=col, fontsize=14.5,
             ha='center', va='center', transform=ax2.transAxes, zorder=11)

# header texts
fig.text(591 / W, 1 - 19 / H, "Hartsfield-Jackson Atlanta Int'l Airport",
         fontsize=25.2, ha='center', va='center')
fig.text(98 / W, 1 - 40 / H, "ICAO Code: KATL", fontsize=17.5, ha='left', va='center')
fig.text(98 / W, 1 - 66 / H, "Coordinates: 33.64, -84.43", fontsize=17.5, ha='left', va='center')
fig.text(98 / W, 1 - 93 / H, "Georgia, USA", fontsize=17.5, ha='left', va='center')
fig.text(1102 / W, 1 - 63 / H, "Model: 12Z 23AUG2026 GEFS", fontsize=17.5, ha='right', va='center')
fig.text(1102 / W, 1 - 90 / H, "weathertogether.net", fontsize=19, ha='right', va='center',
         color='#00a0ff', fontweight='bold')

fig.text(33 / W, 1 - 495 / H, "850 hPa Temperature (red, \u00b0C)", fontsize=25,
         rotation=-90, ha='center', va='center')
fig.text(1170 / W, 1 - 495 / H, "6-hour Precipitation (green, inches)", fontsize=25,
         rotation=-90, ha='center', va='center')

fig.savefig("out.png", dpi=100)
